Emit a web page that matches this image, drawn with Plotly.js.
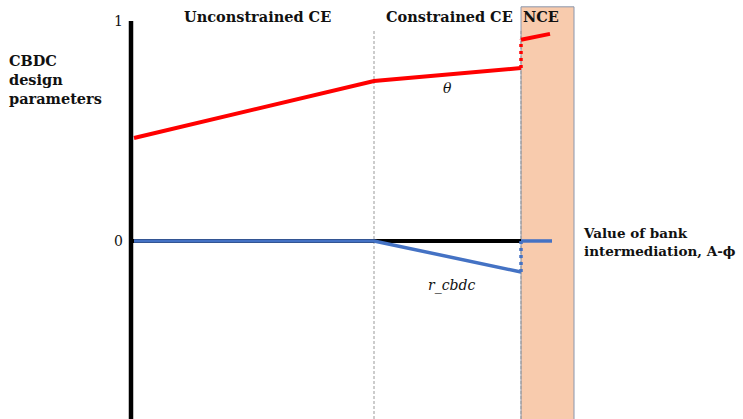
<!DOCTYPE html>
<html><head><meta charset="utf-8">
<script src="https://cdn.plot.ly/plotly-3.0.1.min.js"></script>
<style>html,body{margin:0;padding:0;background:#fff;}#chart{width:743px;height:419px;}</style>
</head><body><div id="chart"></div>
<script>
// x positions are in arbitrary "value of bank intermediation" units
const thetaX = [134, 374, 521];
const thetaY = [0.468, 0.727, 0.786];
const thetaJumpX = [521, 521];
const thetaJumpY = [0.786, 0.914];
const thetaNceX = [521, 550];
const thetaNceY = [0.914, 0.941];

const rX = [134, 374, 521];
const rY = [0.0, 0.0, -0.141];
const rJumpX = [521, 521];
const rJumpY = [-0.141, 0.0];
const rNceX = [521, 552];
const rNceY = [0.0, 0.0];

const regimeBounds = [131, 374, 521, 574];
const regimeLabels = ["Unconstrained CE", "Constrained CE", "NCE"];
const tickVals = [0, 1];
const tickText = ["0", "1"];

const X0 = 124;
const serifB = {family: "DejaVu Serif", size: 14.5, color: "#111"};
const red = "#ff0000", blue = "#4472c4";

const traces = [
  {x: thetaX, y: thetaY, mode: "lines", line: {color: red, width: 4}},
  {x: thetaJumpX, y: thetaJumpY, mode: "lines", line: {color: red, width: 3.5, dash: "3px,4px"}},
  {x: thetaNceX, y: thetaNceY, mode: "lines", line: {color: red, width: 4}},
  {x: [regimeBounds[0], regimeBounds[2]], y: [0, 0], mode: "lines", line: {color: "#000", width: 4}},
  {x: rX, y: rY, mode: "lines", line: {color: blue, width: 3.5}},
  {x: rJumpX, y: rJumpY, mode: "lines", line: {color: blue, width: 3.5, dash: "3px,4px"}},
  {x: rNceX, y: rNceY, mode: "lines", line: {color: blue, width: 3.5}}
];

const layout = {
  width: 743, height: 419,
  margin: {l: X0, r: 0, t: 0, b: 0},
  paper_bgcolor: "#fff", plot_bgcolor: "#fff",
  showlegend: false,
  xaxis: {range: [X0, 743], visible: false, fixedrange: true},
  yaxis: {range: [-0.809, 1.095], showgrid: false, zeroline: false, showline: false,
          tickvals: tickVals, ticktext: tickText, ticks: "", ticklabelstandoff: 0,
          tickfont: {family: "DejaVu Serif", size: 14, color: "#111"}, fixedrange: true},
  shapes: [
    {type: "rect", xref: "x", yref: "y", x0: regimeBounds[2], x1: regimeBounds[3], y0: -0.9, y1: 1.064,
     fillcolor: "#f8cbad", line: {color: "#8a96ad", width: 1}, layer: "below"},
    {type: "line", xref: "x", yref: "y", x0: regimeBounds[2], x1: regimeBounds[2], y0: -0.9, y1: 0.96,
     line: {color: "#999", width: 1, dash: "3px,2px"}, layer: "below"},
    {type: "line", xref: "x", yref: "y", x0: regimeBounds[1], x1: regimeBounds[1], y0: -0.9, y1: 0.959,
     line: {color: "#999", width: 1, dash: "3px,2px"}, layer: "below"},
    {type: "line", xref: "x", yref: "y", x0: regimeBounds[0], x1: regimeBounds[0], y0: -0.9, y1: 1.0,
     line: {color: "#000", width: 4.5}, layer: "above"}
  ],
  annotations: [
    {xref: "paper", yref: "paper", x: -(X0 - 7)/(743 - X0), y: 1 - 50/419, xanchor: "left", yanchor: "top", showarrow: false, align: "left",
     text: "<b>CBDC<br>design<br>parameters</b>", font: serifB},
    {xref: "x", yref: "paper", x: 257, y: 1 - 17/419, xanchor: "center", yanchor: "middle", showarrow: false,
     text: "<b>" + regimeLabels[0] + "</b>", font: serifB},
    {xref: "x", yref: "paper", x: 449, y: 1 - 17/419, xanchor: "center", yanchor: "middle", showarrow: false,
     text: "<b>" + regimeLabels[1] + "</b>", font: serifB},
    {xref: "x", yref: "paper", x: 541, y: 1 - 17/419, xanchor: "center", yanchor: "middle", showarrow: false,
     text: "<b>" + regimeLabels[2] + "</b>", font: serifB},
    {xref: "x", yref: "paper", x: 447, y: 1 - 88/419, xanchor: "center", yanchor: "middle", showarrow: false,
     text: "<i>θ</i>", font: {family: "DejaVu Serif", size: 14, color: "#111"}},
    {xref: "x", yref: "paper", x: 451, y: 1 - 285/419, xanchor: "center", yanchor: "middle", showarrow: false,
     text: "<i>r_cbdc</i>", font: {family: "DejaVu Serif", size: 14, color: "#111"}},
    {xref: "x", yref: "paper", x: 581, y: 1 - 242/419, xanchor: "left", yanchor: "middle", showarrow: false, align: "left",
     text: "<b>Value of bank<br>intermediation, A-ϕ</b>", font: {family: "DejaVu Serif", size: 13.5, color: "#111"}}
  ]
};
Plotly.newPlot("chart", traces, layout, {staticPlot: true, displayModeBar: false});
</script></body></html>
